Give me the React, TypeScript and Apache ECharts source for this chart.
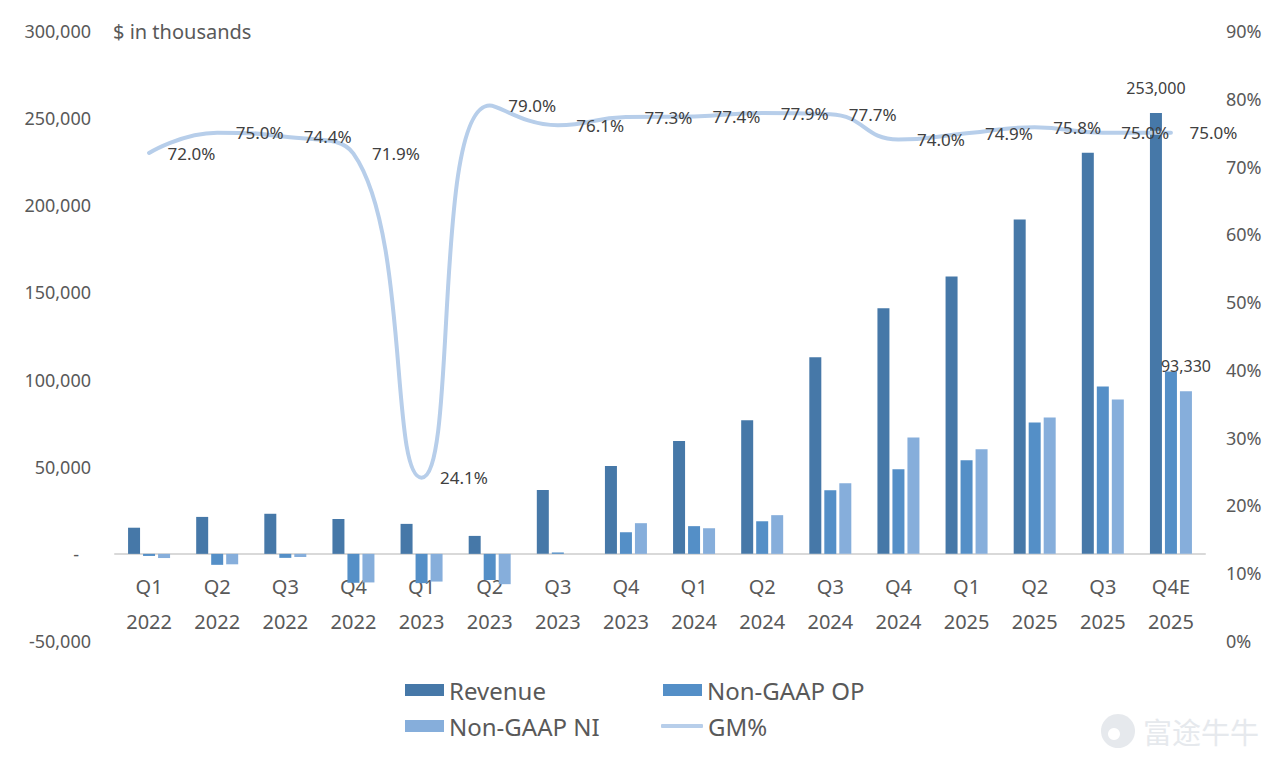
import React, { useEffect, useRef } from "react";
import * as echarts from "echarts";

const categories = [
  "Q1\n2022", "Q2\n2022", "Q3\n2022", "Q4\n2022",
  "Q1\n2023", "Q2\n2023", "Q3\n2023", "Q4\n2023",
  "Q1\n2024", "Q2\n2024", "Q3\n2024", "Q4\n2024",
  "Q1\n2025", "Q2\n2025", "Q3\n2025", "Q4E\n2025",
];

// $ in thousands
const revenue = [
  15000, 21200, 23000, 20000, 17200, 10300, 36700, 50400,
  64700, 76700, 112800, 140900, 159200, 191900, 230200, 253000,
];
const nonGaapOp = [
  -1200, -6300, -2300, -16600, -16800, -15000, 800, 12400,
  15900, 18700, 36500, 48500, 53700, 75400, 96000, 104600,
];
const nonGaapNi = [
  -2400, -6000, -1800, -16400, -15900, -17400, 0, 17600,
  14700, 22200, 40500, 66800, 60000, 78300, 88600, 93330,
];
// gross margin, %
const gmPct = [
  72.0, 75.0, 74.4, 71.9, 24.1, 79.0, 76.1, 77.3,
  77.4, 77.9, 77.7, 74.0, 74.9, 75.8, 75.0, 75.0,
];

const labelledBars: Record<string, number[]> = {
  Revenue: [15],
  "Non-GAAP NI": [15],
};

const FONT = "Noto Sans";
const AXIS_GREY = "#595959";
const LABEL_DARK = "#404040";

const C_REV = "#4678A8";
const C_OP = "#548FC7";
const C_NI = "#86AEDB";
const C_GM = "#B7CEEA";
const C_MARK = "#e6e9ed";

const fmtThousands = (v: number) => v.toLocaleString("en-US");

function barSeries(name: string, data: number[], color: string) {
  const shown = labelledBars[name] || [];
  return {
    name,
    type: "bar",
    yAxisIndex: 0,
    barWidth: 12,
    barGap: "25%",
    itemStyle: { color },
    data: data.map((v, i) =>
      shown.includes(i)
        ? {
            value: v,
            label: {
              show: true,
              position: "top",
              distance: 17,
              formatter: () => fmtThousands(v),
              fontFamily: FONT,
              fontSize: 16,
              color: LABEL_DARK,
            },
          }
        : v
    ),
  };
}

function legendAt(name: string, left: number, top: number) {
  const isLine = name === "GM%";
  return {
    data: [{ name, icon: isLine ? "roundRect" : "rect" }],
    left,
    top,
    itemWidth: isLine ? 42 : 39,
    itemHeight: isLine ? 4 : 12,
    itemGap: 0,
    selectedMode: false,
    textStyle: { fontFamily: FONT, fontSize: 24, color: AXIS_GREY },
  };
}

export default function App() {
  const ref = useRef<HTMLDivElement>(null);

  useEffect(() => {
    if (!ref.current) return;
    const chart = echarts.init(ref.current, null, { renderer: "svg" });
    chart.setOption({
      animation: false,
      backgroundColor: "#ffffff",
      grid: { left: 107, right: 68, top: 23, bottom: 119 },
      legend: [
        legendAt("Revenue", 392, 665),
        legendAt("Non-GAAP OP", 650, 665),
        legendAt("Non-GAAP NI", 392, 701),
        legendAt("GM%", 648, 701),
      ],
      xAxis: {
        type: "category",
        data: categories,
        axisTick: { show: false },
        axisLine: { onZero: true, lineStyle: { color: "#d9d9d9", width: 2 } },
        axisLabel: {
          fontFamily: FONT,
          fontSize: 20,
          color: AXIS_GREY,
          lineHeight: 35,
          margin: -72,
        },
      },
      yAxis: [
        {
          type: "value",
          min: -50000,
          max: 300000,
          interval: 50000,
          splitLine: { show: false },
          axisLine: { show: false },
          axisTick: { show: false },
          axisLabel: {
            margin: 24,
            fontFamily: FONT,
            fontSize: 18,
            color: AXIS_GREY,
            formatter: (v: number) => (v === 0 ? "{z|-}" : fmtThousands(v)),
            rich: {
              z: {
                fontFamily: FONT,
                fontSize: 18,
                color: AXIS_GREY,
                padding: [0, 12, 0, 0],
              },
            },
          },
        },
        {
          type: "value",
          min: 0,
          max: 90,
          interval: 10,
          splitLine: { show: false },
          axisLine: { show: false },
          axisTick: { show: false },
          axisLabel: {
            margin: 21,
            fontFamily: FONT,
            fontSize: 18,
            color: AXIS_GREY,
            formatter: (v: number) => `${v}%`,
          },
        },
      ],
      series: [
        barSeries("Revenue", revenue, C_REV),
        barSeries("Non-GAAP OP", nonGaapOp, C_OP),
        barSeries("Non-GAAP NI", nonGaapNi, C_NI),
        {
          name: "GM%",
          type: "line",
          yAxisIndex: 1,
          smooth: 0.5,
          symbol: "circle",
          symbolSize: 1,
          showSymbol: true,
          data: gmPct,
          lineStyle: { color: C_GM, width: 4, cap: "round" },
          itemStyle: { color: C_GM },
          label: {
            show: true,
            position: "right",
            distance: 18,
            fontFamily: FONT,
            fontSize: 17,
            color: LABEL_DARK,
            formatter: (p: any) => `${Number(p.value).toFixed(1)}%`,
          },
          z: 3,
        },
      ],
      graphic: [
        {
          type: "text",
          x: 105,
          y: 23,
          style: {
            text: "$ in thousands",
            fontFamily: FONT,
            fontSize: 20,
            fill: AXIS_GREY,
            verticalAlign: "middle",
          },
        },
        {
          type: "group",
          x: 1092,
          y: 705,
          children: [
            {
              type: "circle",
              shape: { cx: 18, cy: 18, r: 17 },
              style: { fill: C_MARK },
            },
            {
              type: "circle",
              shape: { cx: 14, cy: 21, r: 6 },
              style: { fill: "#ffffff" },
            },
            {
              type: "text",
              x: 43,
              y: 18,
              style: {
                text: "富途牛牛",
                fontFamily: "Noto Sans CJK SC",
                fontSize: 29,
                fill: C_MARK,
                verticalAlign: "middle",
              },
            },
          ],
        },
      ],
    });
    return () => chart.dispose();
  }, []);

  return <div ref={ref} style={{ width: 1265, height: 752 }} />;
}
